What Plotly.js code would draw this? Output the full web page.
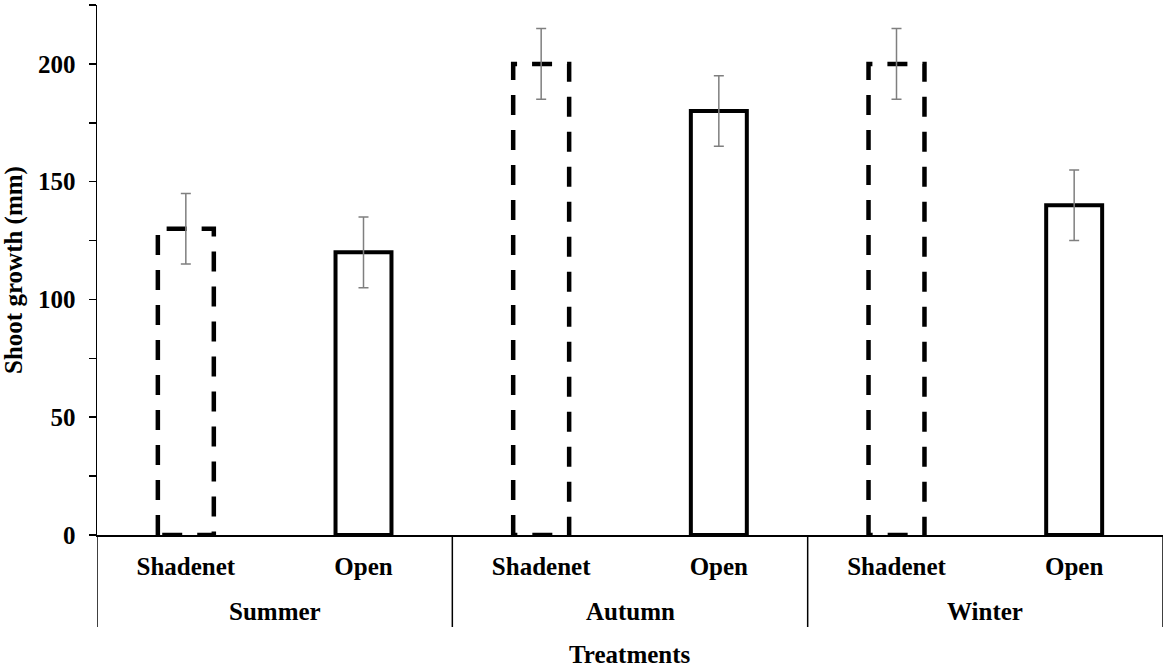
<!DOCTYPE html>
<html>
<head>
<meta charset="utf-8">
<script src="https://cdn.plot.ly/plotly-3.0.1.min.js"></script>
<style>
  html, body { margin: 0; padding: 0; background: #fff; }
  #grafico { width: 1166px; height: 668px; }
</style>
</head>
<body>
<div id="grafico"></div>
<script>
// Shoot growth per season and treatment
const estacoes = ['Summer', 'Summer', 'Autumn', 'Autumn', 'Winter', 'Winter'];
const tratamentos = ['Shadenet', 'Open', 'Shadenet', 'Open', 'Shadenet', 'Open'];
const crescimento = [130, 120, 200, 180, 200, 140];
const erros = [15, 15, 15, 15, 15, 15];

const fonte = {
  family: '"Times New Roman", Times, "Liberation Serif", "DejaVu Serif", serif',
  size: 25,
  color: '#000',
  weight: 'bold'
};
const larguraBarra = 0.315;
const alturaPlot = 668 - 5 - 133;
const indices = crescimento.map((_, i) => i);

// barras (Open com contorno sólido, Shadenet só o fundo branco)
const barras = {
  type: 'bar',
  x: indices,
  y: crescimento,
  width: larguraBarra,
  marker: {
    color: '#fff',
    line: {
      color: '#000',
      width: tratamentos.map(t => t === 'Open' ? 4 : 0)
    }
  },
  hoverinfo: 'skip',
  showlegend: false
};

// contorno tracejado das barras Shadenet (começa no canto de baixo à direita)
const tracejadoX = [];
const tracejadoY = [];
tratamentos.forEach((t, i) => {
  if (t !== 'Shadenet') return;
  const h = larguraBarra / 2;
  tracejadoX.push(i - h, i - h, i + h, i + h, i - h, null);
  tracejadoY.push(0, crescimento[i], crescimento[i], 0, 0, null);
});

const tracejado = {
  type: 'scatter',
  mode: 'lines',
  x: tracejadoX,
  y: tracejadoY,
  line: { color: '#000', width: 4.5, dash: '20px,15px' },
  hoverinfo: 'skip',
  showlegend: false
};

// barras de erro por cima de tudo
const barrasErro = {
  type: 'scatter',
  mode: 'markers',
  x: indices,
  y: crescimento,
  marker: { size: 1, color: 'rgba(0,0,0,0)' },
  error_y: { type: 'data', array: erros, visible: true, color: '#7f7f7f', thickness: 1.5, width: 5 },
  hoverinfo: 'skip',
  showlegend: false
};

// grupos de estação: rótulos e divisórias
const grupos = [];
estacoes.forEach((e, i) => {
  const g = grupos.find(gr => gr.nome === e);
  if (g) g.fim = i; else grupos.push({ nome: e, inicio: i, fim: i });
});

const anotacoes = grupos.map(g => ({
  text: g.nome,
  x: (g.inicio + g.fim) / 2,
  xref: 'x',
  y: -(611 - 535) / alturaPlot,
  yref: 'paper',
  yanchor: 'middle',
  showarrow: false,
  font: fonte
}));
anotacoes.push({
  text: 'Treatments',
  x: 0.5,
  xref: 'paper',
  y: -(654 - 535) / alturaPlot,
  yref: 'paper',
  yanchor: 'middle',
  showarrow: false,
  font: fonte
});

const limites = [grupos[0].inicio - 0.5].concat(grupos.map(g => g.fim + 0.5));
const divisorias = limites.map(x => ({
  type: 'line',
  xref: 'x',
  yref: 'paper',
  x0: x,
  x1: x,
  y0: 0,
  y1: -(627 - 535) / alturaPlot,
  line: { color: '#000', width: 1.5 }
}));

const layout = {
  width: 1166,
  height: 668,
  margin: { l: 97, r: 3, t: 5, b: 133 },
  paper_bgcolor: '#fff',
  plot_bgcolor: '#fff',
  font: fonte,
  showlegend: false,
  annotations: anotacoes,
  shapes: divisorias,
  xaxis: {
    range: [-0.5, 5.5],
    tickvals: indices,
    ticktext: tratamentos,
    showline: true,
    linecolor: '#000',
    linewidth: 1.5,
    ticks: '',
    ticklabelstandoff: 8,
    showgrid: false,
    zeroline: false,
    tickfont: fonte
  },
  yaxis: {
    range: [0, 225],
    dtick: 50,
    tick0: 0,
    ticks: 'outside',
    ticklen: 7,
    tickwidth: 1.5,
    tickcolor: '#000',
    showline: true,
    linecolor: '#000',
    linewidth: 1.5,
    showgrid: false,
    zeroline: false,
    ticklabelstandoff: 8,
    minor: { dtick: 25, ticks: 'outside', ticklen: 7, tickwidth: 1.5, tickcolor: '#000', showgrid: false },
    tickfont: fonte,
    title: { text: 'Shoot growth (mm)', font: fonte, standoff: 10 }
  }
};

Plotly.newPlot('grafico', [barras, tracejado, barrasErro], layout, { displayModeBar: false, staticPlot: true });
</script>
</body>
</html>
